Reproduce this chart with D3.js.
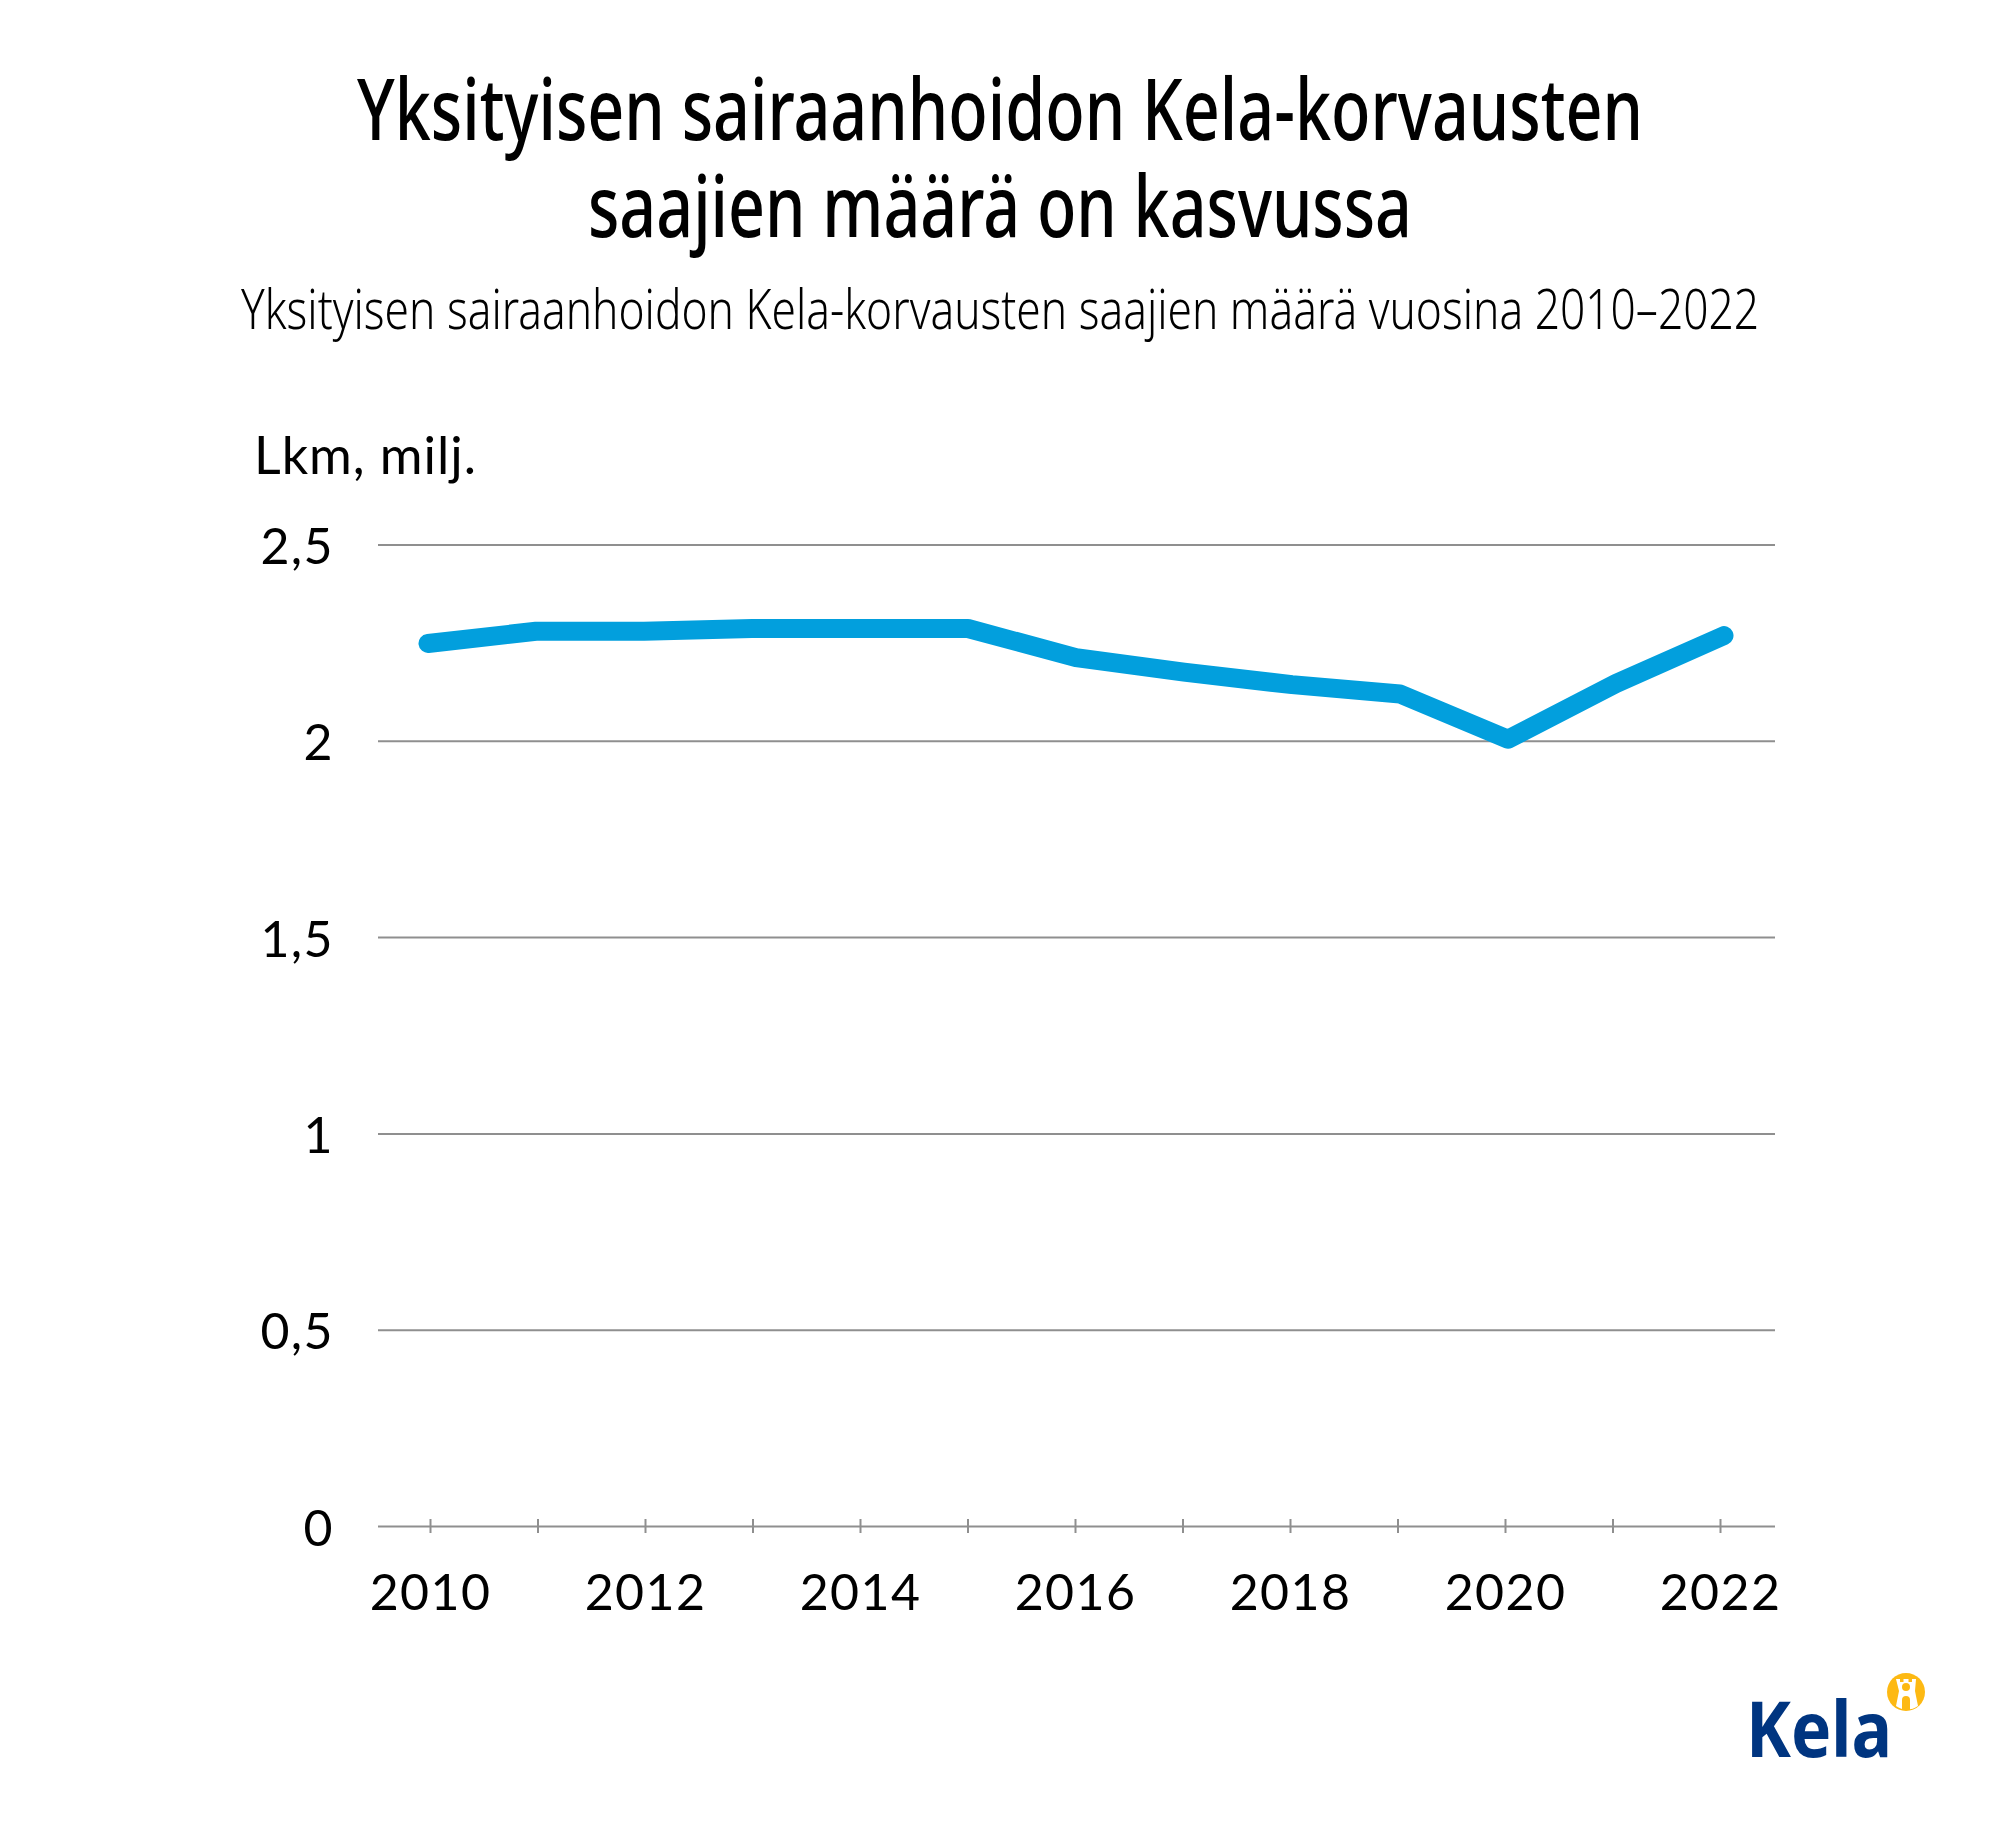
<!DOCTYPE html>
<html>
<head>
<meta charset="utf-8">
<script src="https://cdn.jsdelivr.net/npm/d3@7"></script>
<style>
	body { margin: 0; background: #fff; }
	text { fill: #000; }
	.axis text { font-family: Lato, sans-serif; font-size: 50px; fill: #000; letter-spacing: 1.4px; }
	.title { font-family: "Noto Sans", sans-serif; font-size: 86px; font-weight: 500; text-anchor: middle; }
	.subtitle { font-family: "Noto Sans", sans-serif; font-size: 56px; font-weight: 300; text-anchor: middle; }
</style>
</head>
<body>
<svg id="chart" width="2000" height="1833"></svg>
<script>
const years = [2010, 2011, 2012, 2013, 2014, 2015, 2016, 2017, 2018, 2019, 2020, 2021, 2022]
const recipients = [2.248, 2.279, 2.279, 2.286, 2.286, 2.286, 2.212, 2.175, 2.143, 2.119, 2.004, 2.146, 2.268]
const yTicks = [0, 0.5, 1, 1.5, 2, 2.5]
const titleLines = ['Yksityisen sairaanhoidon Kela-korvausten', 'saajien määrä on kasvussa']
const subtitle = 'Yksityisen sairaanhoidon Kela-korvausten saajien määrä vuosina 2010–2022'
const yLabel = 'Lkm, milj.'

const svg = d3.select('#chart')

const left = 378
const right = 1775
const y = d3.scaleLinear().domain([0, 2.5]).range([1526, 544.5])
const x = d3.scalePoint().domain(years).range([430, 1720])
// the line sits a few pixels wider than the tick marks in the original
const xLine = d3.scalePoint().domain(years).range([428, 1724])

// titles
svg.selectAll('.title')
	.data(titleLines)
	.enter()
	.append('text')
	.attr('class', 'title')
	.attr('x', 1000)
	.attr('y', (d, i) => 140 + i * 97)
	.attr('textLength', (d, i) => [1286, 824][i])
	.attr('lengthAdjust', 'spacingAndGlyphs')
	.text(d => d)

svg.append('text')
	.attr('class', 'subtitle')
	.attr('x', 1000)
	.attr('y', 329)
	.attr('textLength', 1518)
	.attr('lengthAdjust', 'spacingAndGlyphs')
	.text(subtitle)

svg.append('text')
	.attr('x', 254)
	.attr('y', 474)
	.attr('font-family', 'Lato, sans-serif')
	.attr('font-size', 52)
	.attr('textLength', 222)
	.text(yLabel)

// y axis with the grid lines
const yAxis = svg.append('g')
	.attr('class', 'axis')
	.attr('transform', `translate(${left},0)`)
	.call(
		d3.axisLeft(y)
			.tickValues(yTicks)
			.tickSize(left - right)
			.tickPadding(44)
			.tickFormat(d => String(d).replace('.', ','))
	)
yAxis.select('.domain').remove()
yAxis.selectAll('.tick line').attr('stroke', '#8f8f8f').attr('stroke-width', 2)
yAxis.selectAll('.tick text').attr('dy', '0.38em')

// x axis
const xAxis = svg.append('g')
	.attr('class', 'axis')
	.attr('transform', `translate(0,${y(0)})`)
	.call(
		d3.axisBottom(x)
			.tickSize(7)
			.tickPadding(41)
			.tickFormat(d => (d % 2 === 0 ? d : ''))
	)
xAxis.select('.domain').remove()
xAxis.selectAll('.tick line')
	.attr('y1', -7)
	.attr('stroke', '#8f8f8f')
	.attr('stroke-width', 2)

// series
const line = d3.line()
	.x((d, i) => xLine(years[i]))
	.y(d => y(d))

svg.append('path')
	.datum(recipients)
	.attr('d', line)
	.attr('fill', 'none')
	.attr('stroke', '#029fdd')
	.attr('stroke-width', 19)
	.attr('stroke-linejoin', 'round')
	.attr('stroke-linecap', 'round')

// logo
const logo = svg.append('g').attr('transform', 'translate(1906,1692)')
logo.append('circle').attr('r', 19).attr('fill', '#fdb913')
logo.append('path')
	.attr('fill', '#fff')
	.attr('d', 'M-10,-13 h4 v3 h3.5 v-3 h5 v3 h3.5 v-3 h4 l-1,12 l3,15 a19,19 0 0 1 -22,0 l3,-15 z')
logo.append('circle').attr('cy', -5).attr('r', 4).attr('fill', '#fdb913')
logo.append('path')
	.attr('fill', '#fdb913')
	.attr('d', 'M-4,18 v-10 a4,4 0 0 1 8,0 v10 z')

svg.append('text')
	.attr('x', 1746)
	.attr('y', 1757)
	.attr('font-family', '"Noto Sans", sans-serif')
	.attr('font-weight', 700)
	.attr('font-size', 77)
	.style('fill', '#003580')
	.attr('textLength', 146)
	.attr('lengthAdjust', 'spacingAndGlyphs')
	.text('Kela')
</script>
</body>
</html>
